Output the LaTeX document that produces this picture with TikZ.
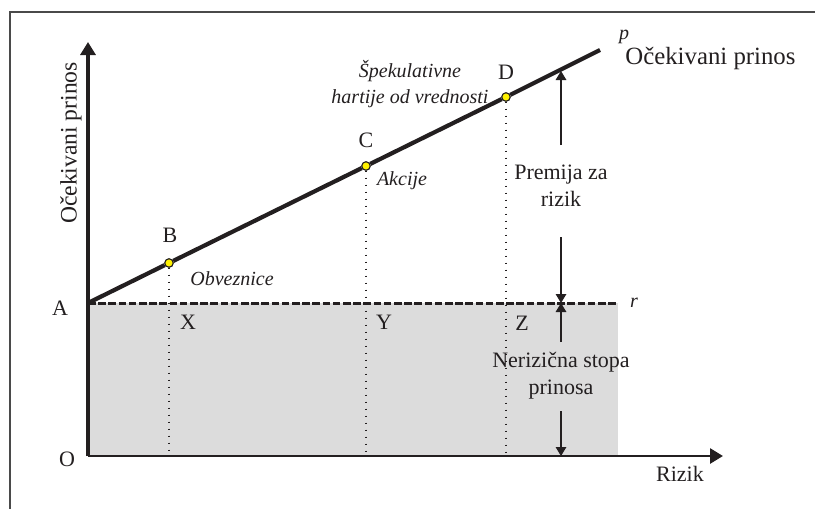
\documentclass[tikz,border=0pt]{standalone}
\usepackage{fontspec}
\setmainfont{Liberation Serif}
\usetikzlibrary{arrows.meta, positioning}
\definecolor{riskgray}{HTML}{DCDCDC}
\definecolor{dotyellow}{HTML}{FFF200}
\definecolor{framegray}{HTML}{4A4A4A}
\definecolor{inkblack}{HTML}{231F20}

\begin{document}
\begin{tikzpicture}[
    x=0.5pt, y=-0.5pt,
    every node/.style={font=\fontsize{11}{13.6}\selectfont, text=inkblack, inner sep=0pt},
    axis/.style={-{Triangle[length=6.5pt,width=7.5pt]}, line width=#1, draw=inkblack},
    axis/.default=1.6pt,
    guide/.style={draw=inkblack, line width=0.6pt, dash pattern=on 0.7pt off 2.8pt},
    point/.style={circle, draw=inkblack, line width=0.5pt, fill=dotyellow, minimum size=4.2pt},
    tag/.style={font=\fontsize{10}{13}\selectfont\itshape, align=center},
    measure/.style={-{Triangle[length=4.5pt,width=5.3pt]}, line width=0.6pt, draw=inkblack}
]
\useasboundingbox (0,0) rectangle (815,509);

% Frame
\draw[framegray, line width=1pt] (10,509) -- (10,12) -- (815,12);

% Key coordinates
\coordinate (O) at (88,456);
\coordinate (A) at (88,303);
\coordinate (rEnd) at (618,303);
\coordinate (pEnd) at (600,50);
\coordinate (yTip) at (88,42);
\coordinate (xTip) at (723,456);
\coordinate (Xf) at (169,456);
\coordinate (Yf) at (366,456);
\coordinate (Zf) at (506,456);
\coordinate (onP) at (561,71);
\coordinate (onR) at (561,303);
\coordinate (onX) at (561,456);

% Risk-free area
\fill[riskgray] (O) rectangle (rEnd);

% Points on the line
\node[point] (B) at (169,263) {};
\node[point] (C) at (366,166) {};
\node[point] (D) at (506,97) {};

% Guides
\draw[guide] (B) -- (Xf);
\draw[guide] (C) -- (Yf);
\draw[guide] (D) -- (Zf);

% r line
\draw[inkblack, line width=1.5pt, dash pattern=on 3.8pt off 1.3pt] (A) -- (rEnd);

% Axes
\draw[axis=1.4pt] (O) -- (xTip);
\draw[axis] (O) -- (yTip);

% Expected return line
\draw[inkblack, line width=2.1pt] (A) -- (B) -- (C) -- (D) -- (pEnd);
\node[point] at (B) {};
\node[point] at (C) {};
\node[point] at (D) {};

% Labels
\node at (60,308) (labA) {A};
\node at (67,459) (labO) {O};
\node at (170,235) (labB) {B};
\node at (366,140) (labC) {C};
\node at (506,72) (labD) {D};
\node at (188,322) (labX) {X};
\node at (384,322) (labY) {Y};
\node at (522,323) (labZ) {Z};
\node[tag] at (634,303) (labR) {r};
\node[tag] at (624,37) (labP) {p};
\node[anchor=base west, font=\fontsize{12.4}{14}\selectfont] at (625,64) (ret) {Očekivani prinos};
\node[rotate=90, font=\fontsize{11.8}{14}\selectfont] at (71,143) (yLab) {Očekivani prinos};
\node at (680,474) (xLab) {Rizik};
\node[tag] at (232,279) (bonds) {Obveznice};
\node[tag] at (402,181) (stocks) {Akcije};
\node[tag] at (410,84) (spec) {Špekulativne\\hartije od vrednosti};

% Measures
\node[align=center] at (561,186) (prem) {Premija za\\rizik};
\node[align=center] at (561,376) (riskfree) {Nerizična stopa\\prinosa};
\draw[measure] (561,145) -- (onP);
\draw[measure] (561,237) -- (onR);
\draw[measure] (561,342) -- (onR);
\draw[measure] (561,411) -- (onX);

\end{tikzpicture}
\end{document}
